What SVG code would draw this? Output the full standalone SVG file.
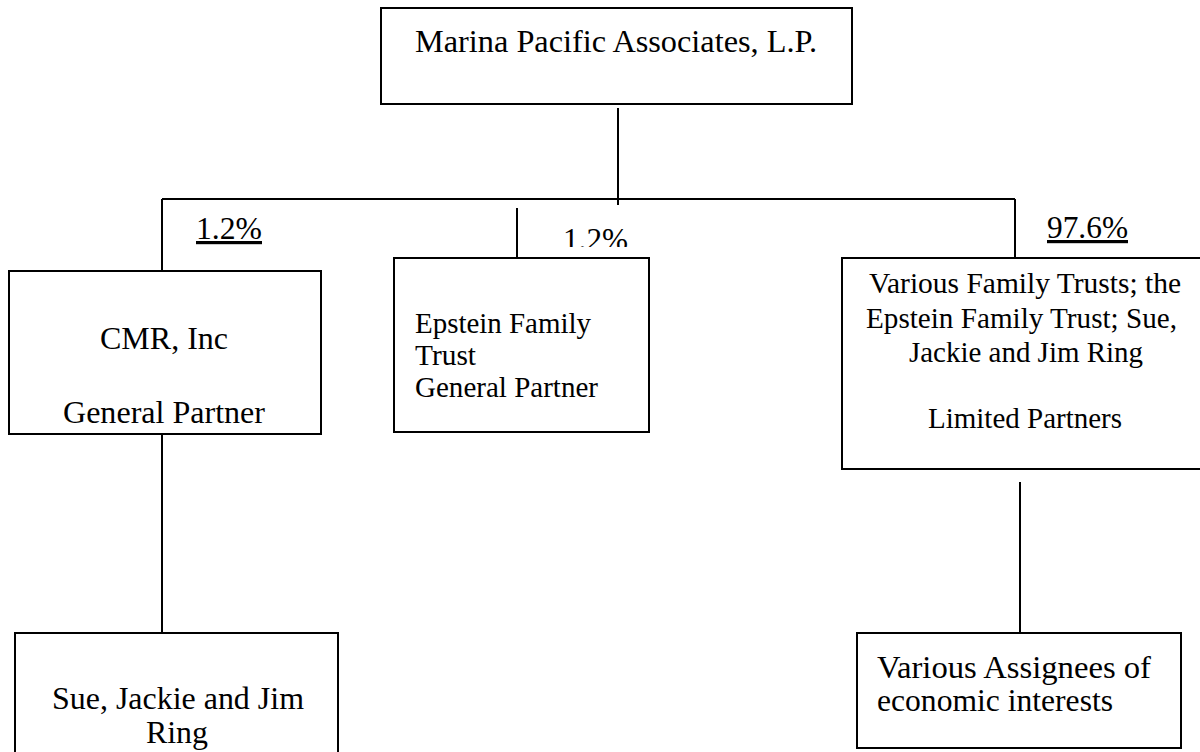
<svg xmlns="http://www.w3.org/2000/svg" width="1200" height="752" viewBox="0 0 1200 752">
<style>
.box{fill:#fff;stroke:#000;stroke-width:2}
.ln{stroke:#000;stroke-width:2;fill:none}
text{font-family:'Times New Roman','Liberation Serif','DejaVu Serif',serif;font-size:32px;fill:#000}
.s{font-size:29px}
.u{text-decoration:underline}
</style>
<defs>
<clipPath id="clipMid"><rect x="540" y="200" width="120" height="47"/></clipPath>
</defs>
<rect width="1200" height="752" fill="#fff"/>
<g id="connectors">
<line class="ln" x1="618" y1="108" x2="618" y2="205"/>
<line class="ln" x1="162" y1="199" x2="1015" y2="199"/>
<line class="ln" x1="162" y1="199" x2="162" y2="271"/>
<line class="ln" x1="517" y1="208" x2="517" y2="258"/>
<line class="ln" x1="1015" y1="199" x2="1015" y2="258"/>
<line class="ln" x1="162" y1="434" x2="162" y2="633"/>
<line class="ln" x1="1020" y1="482" x2="1020" y2="633"/>
</g>
<g id="lbl-cmr">
<text class="u" x="196" y="239" textLength="66" lengthAdjust="spacingAndGlyphs">1.2%</text>
</g>
<g id="lbl-epstein" clip-path="url(#clipMid)">
<text x="563" y="250" textLength="65" lengthAdjust="spacingAndGlyphs">1.2%</text>
</g>
<g id="lbl-lp">
<text class="u" x="1047" y="238" textLength="81" lengthAdjust="spacingAndGlyphs">97.6%</text>
</g>
<g id="n-marina">
<rect class="box" x="381" y="8" width="471" height="96"/>
<text x="415" y="52" textLength="402" lengthAdjust="spacingAndGlyphs">Marina Pacific Associates, L.P.</text>
</g>
<g id="n-cmr">
<rect class="box" x="9" y="271" width="312" height="163"/>
<text x="100" y="349" textLength="128" lengthAdjust="spacingAndGlyphs">CMR, Inc</text>
<text x="63" y="423" textLength="202" lengthAdjust="spacingAndGlyphs">General Partner</text>
</g>
<g id="n-epstein">
<rect class="box" x="394" y="258" width="255" height="174"/>
<text class="s" x="415" y="333" textLength="176" lengthAdjust="spacingAndGlyphs">Epstein Family</text>
<text class="s" x="415" y="365" textLength="61" lengthAdjust="spacingAndGlyphs">Trust</text>
<text class="s" x="415" y="397" textLength="183" lengthAdjust="spacingAndGlyphs">General Partner</text>
</g>
<g id="n-lp">
<rect class="box" x="842" y="258" width="364" height="211"/>
<text class="s" x="869" y="293" textLength="312" lengthAdjust="spacingAndGlyphs">Various Family Trusts; the</text>
<text class="s" x="866" y="328" textLength="311" lengthAdjust="spacingAndGlyphs">Epstein Family Trust; Sue,</text>
<text class="s" x="909" y="362" textLength="234" lengthAdjust="spacingAndGlyphs">Jackie and Jim Ring</text>
<text class="s" x="928" y="428" textLength="194" lengthAdjust="spacingAndGlyphs">Limited Partners</text>
</g>
<g id="n-ring">
<rect class="box" x="15" y="633" width="323" height="140"/>
<text x="52" y="709" textLength="252" lengthAdjust="spacingAndGlyphs">Sue, Jackie and Jim</text>
<text x="146" y="743" textLength="62" lengthAdjust="spacingAndGlyphs">Ring</text>
</g>
<g id="n-assignees">
<rect class="box" x="857" y="633" width="324" height="115"/>
<text x="877" y="678" textLength="274" lengthAdjust="spacingAndGlyphs">Various Assignees of</text>
<text x="877" y="711" textLength="236" lengthAdjust="spacingAndGlyphs">economic interests</text>
</g>
</svg>
